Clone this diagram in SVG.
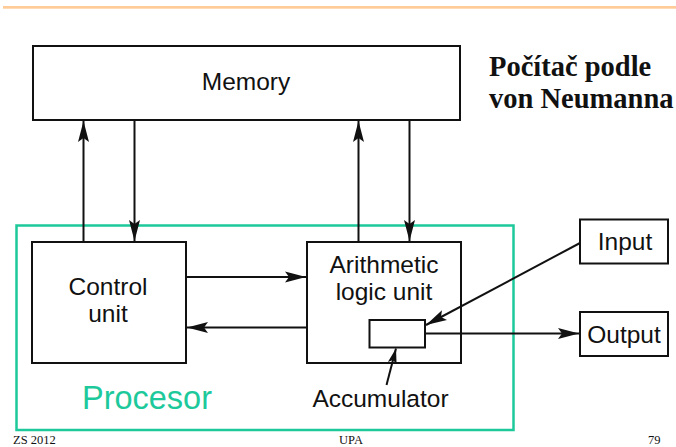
<svg xmlns="http://www.w3.org/2000/svg" width="676" height="447" viewBox="0 0 676 447">
<style>
.box{fill:#fff;stroke:#111;stroke-width:2}
.lbl{font-family:"Liberation Sans",Arial,sans-serif;font-size:24.5px;fill:#111;text-anchor:middle}
.ttl{font-family:"Liberation Serif","Times New Roman",serif;font-weight:bold;font-size:28.5px;fill:#111}
.ftr{font-family:"Liberation Serif","Times New Roman",serif;font-size:12.5px;fill:#111}
.ln{fill:none;stroke:#111;stroke-width:2}
</style>
<defs>
<marker id="ah" markerUnits="userSpaceOnUse" markerWidth="22" markerHeight="12" refX="21" refY="6" orient="auto" viewBox="0 0 22 12">
<path d="M0,0.5 L21,6 L0,11.5 L4,6 z" fill="#111"/>
</marker>
<marker id="ahs" markerUnits="userSpaceOnUse" markerWidth="16" markerHeight="10" refX="15" refY="5" orient="auto" viewBox="0 0 16 10">
<path d="M0,0.5 L15,5 L0,9.5 L3,5 z" fill="#111"/>
</marker>
</defs>
<rect x="3" y="6" width="673" height="2.7" fill="#FFCC99"/>
<g id="memory"><rect class="box" x="33" y="46" width="427" height="74"/><text class="lbl" x="246" y="90">Memory</text></g>
<g id="title"><text class="ttl" x="489" y="76">Počítač podle</text><text class="ttl" x="489" y="108">von Neumanna</text></g>
<g id="procesor"><rect x="16.5" y="225.5" width="497" height="204.5" fill="none" stroke="#1DC99B" stroke-width="2.5"/><text x="147" y="409" font-family="Liberation Sans,Arial,sans-serif" font-size="32.5" fill="#1DC99B" text-anchor="middle">Procesor</text></g>
<g id="control"><rect class="box" x="32" y="242" width="154" height="121"/><text class="lbl" x="108" y="295">Control</text><text class="lbl" x="108" y="322">unit</text></g>
<g id="alu"><rect class="box" x="307" y="242" width="154" height="121"/><text class="lbl" x="384" y="273">Arithmetic</text><text class="lbl" x="384" y="300">logic unit</text></g>
<g id="accumulator"><rect class="box" x="369.5" y="320" width="55.5" height="27.5"/><text class="lbl" x="380.5" y="407">Accumulator</text></g>
<g id="input"><rect class="box" x="580" y="219.5" width="88" height="44"/><text class="lbl" x="625" y="250">Input</text></g>
<g id="output"><rect class="box" x="580" y="312" width="88" height="44"/><text class="lbl" x="624" y="343">Output</text></g>
<g id="connectors">
<path class="ln" d="M83.5,242 V121" marker-end="url(#ah)"/>
<path class="ln" d="M134.5,120 V241" marker-end="url(#ah)"/>
<path class="ln" d="M358.5,242 V121" marker-end="url(#ah)"/>
<path class="ln" d="M409.5,120 V241" marker-end="url(#ah)"/>
<path class="ln" d="M186,277 H306" marker-end="url(#ah)"/>
<path class="ln" d="M307,327.5 H187" marker-end="url(#ah)"/>
<path class="ln" d="M580,243 L426,325" stroke-width="3" marker-end="url(#ah)"/>
<path class="ln" d="M425,333.5 H579" marker-end="url(#ah)"/>
<path class="ln" d="M386.5,385 L396,348.5" stroke-width="1.5" marker-end="url(#ahs)"/>
</g>
<g id="footer"><text class="ftr" x="13" y="443.5">ZS 2012</text><text class="ftr" x="351" y="443.5" text-anchor="middle">UPA</text><text class="ftr" x="648" y="443.5">79</text></g>
</svg>
